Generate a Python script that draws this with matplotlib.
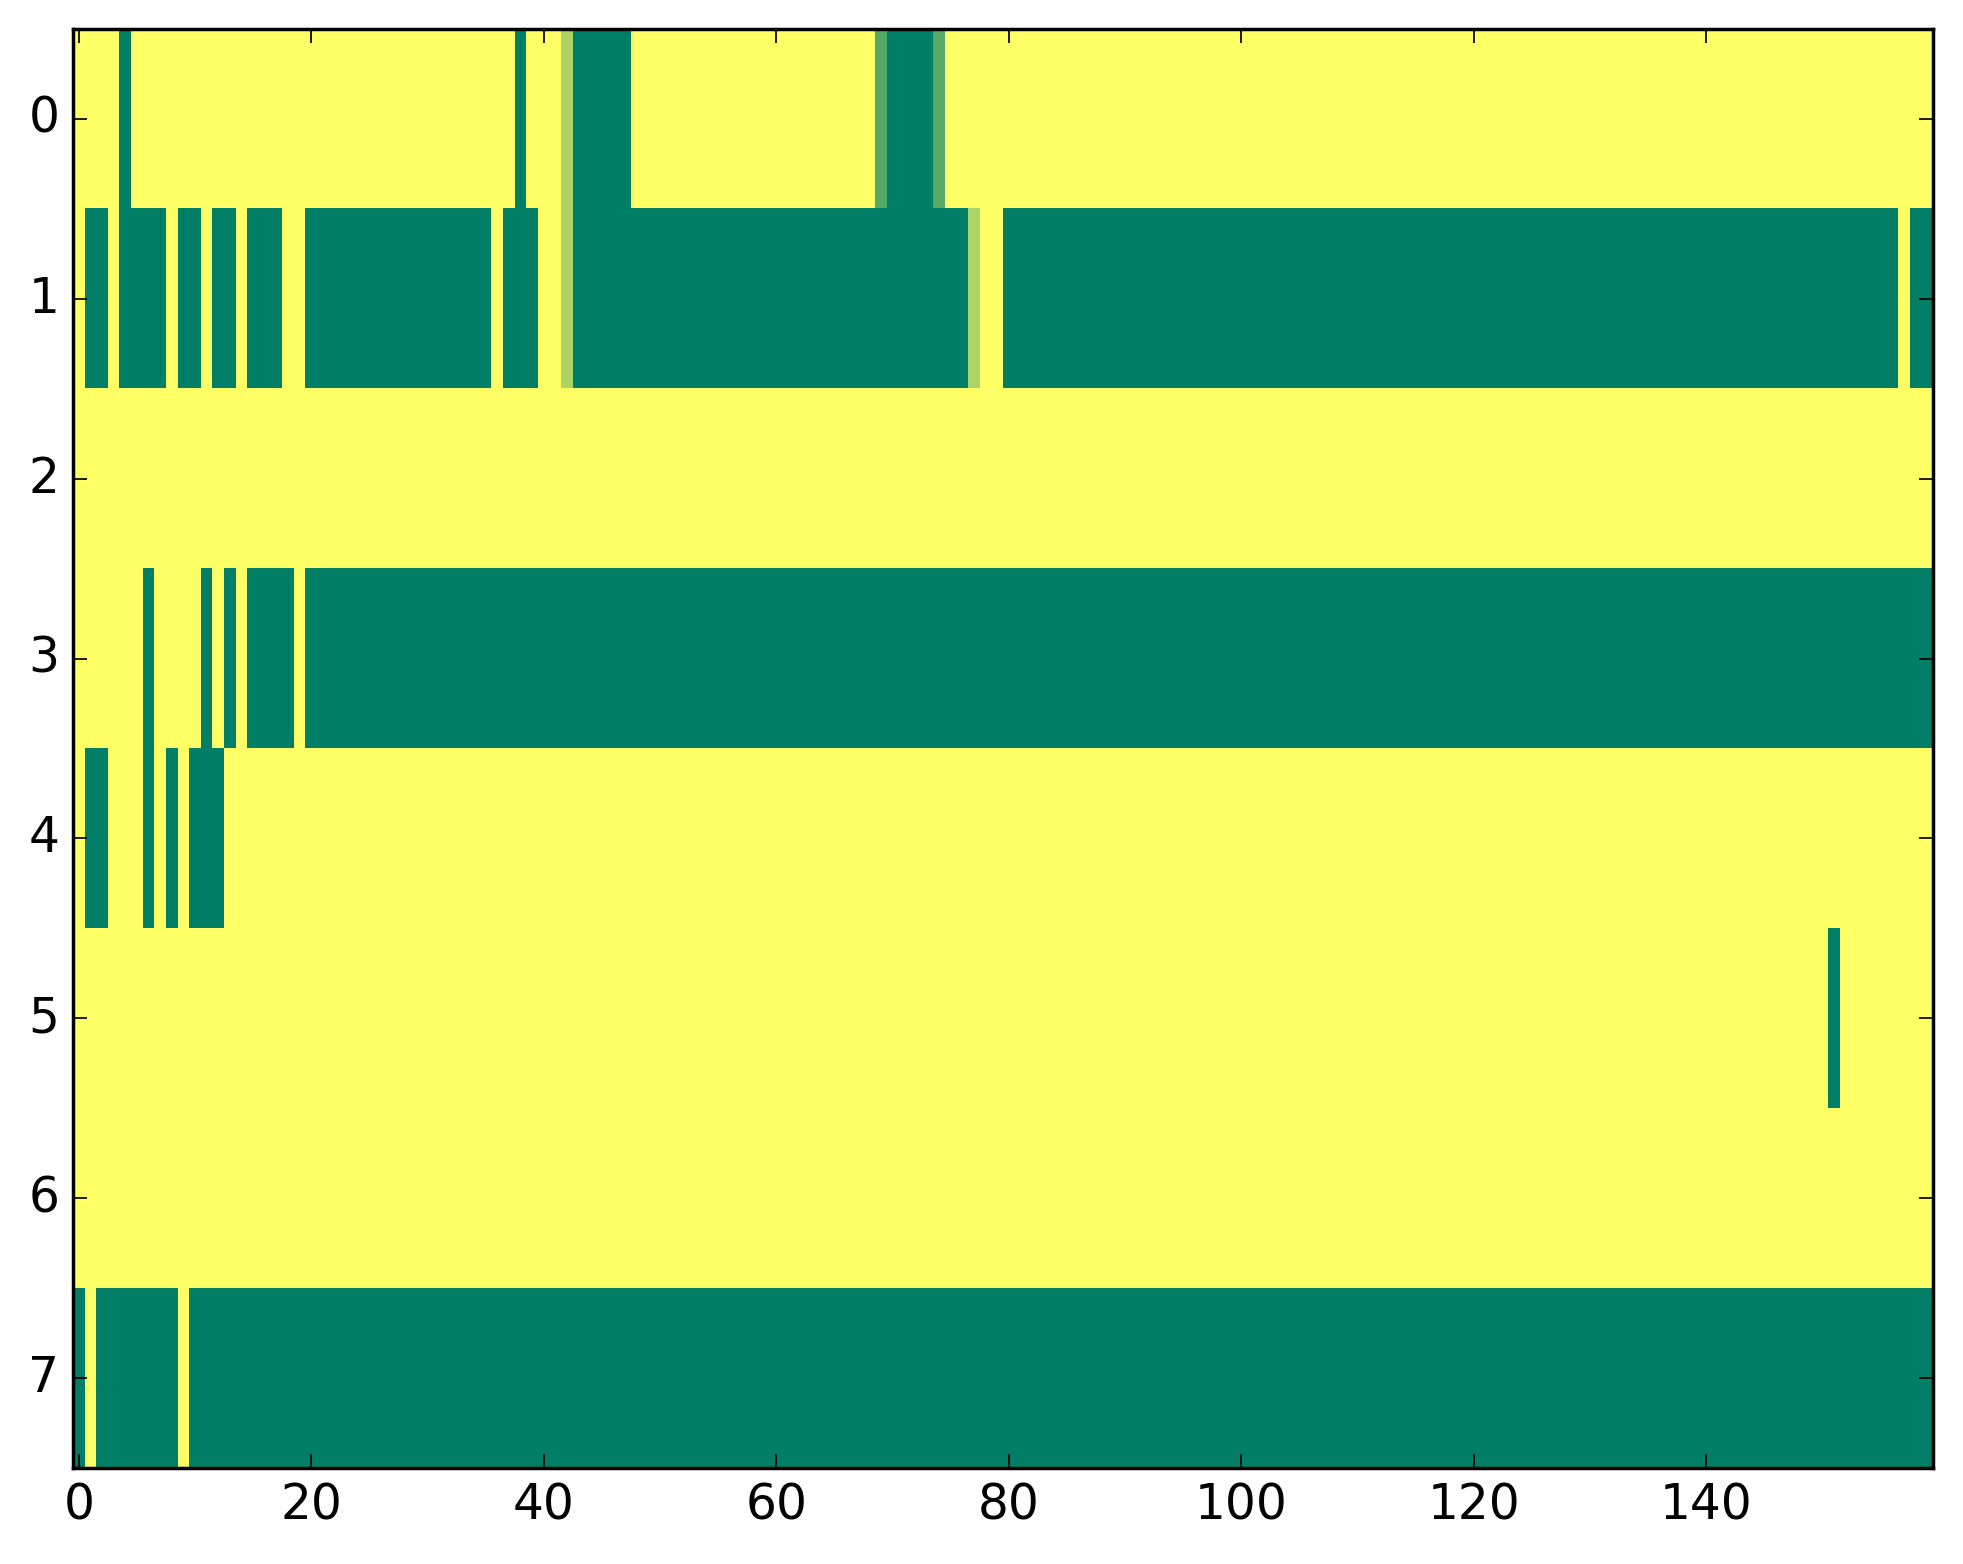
#!/usr/bin/env python3
# Heatmap of 8 channels x 160 steps, summer colormap, classic matplotlib look.

import numpy as np
import matplotlib
matplotlib.use('Agg')
import matplotlib.pyplot as plt

# Each row is run-length encoded as (value, count) pairs.
row0 = [(1, 4), (0, 1), (1, 33), (0, 1), (1, 3), (0.67, 1), (0, 5), (1, 21),
        (0.33, 1), (0, 4), (0.33, 1), (1, 85)]
row1 = [(1, 1), (0, 2), (1, 1), (0, 4), (1, 1), (0, 2), (1, 1), (0, 2), (1, 1),
        (0, 3), (1, 2), (0, 16), (1, 1), (0, 3), (1, 2), (0.67, 1), (0, 34),
        (0.67, 1), (1, 2), (0, 77), (1, 1), (0, 2)]
row2 = [(1, 160)]
row3 = [(1, 6), (0, 1), (1, 4), (0, 1), (1, 1), (0, 1), (1, 1), (0, 4), (1, 1),
        (0, 140)]
row4 = [(1, 1), (0, 2), (1, 3), (0, 1), (1, 1), (0, 1), (1, 1), (0, 3), (1, 147)]
row5 = [(1, 151), (0, 1), (1, 8)]
row6 = [(1, 160)]
row7 = [(0, 1), (1, 1), (0, 7), (1, 1), (0, 150)]

rows = [row0, row1, row2, row3, row4, row5, row6, row7]
xticks = [0, 20, 40, 60, 80, 100, 120, 140]
yticks = [0, 1, 2, 3, 4, 5, 6, 7]


def expand(runs):
    out = []
    for val, n in runs:
        out.extend([val] * n)
    return out


data = np.array([expand(r) for r in rows], dtype=float)

plt.style.use('classic')
plt.rcParams['font.size'] = 14

fig = plt.figure(figsize=(7.852, 6.256), dpi=250)
ax = fig.add_axes([0.0373, 0.0614, 0.9474, 0.9201])

ax.imshow(data, cmap='summer', aspect='auto', interpolation='nearest',
          vmin=0, vmax=1)
ax.set_xticks(xticks)
ax.set_yticks(yticks)
ax.set_xlim(-0.5, data.shape[1] - 0.5)
ax.set_ylim(data.shape[0] - 0.5, -0.5)

fig.savefig('out.png', dpi=250)
plt.close(fig)
